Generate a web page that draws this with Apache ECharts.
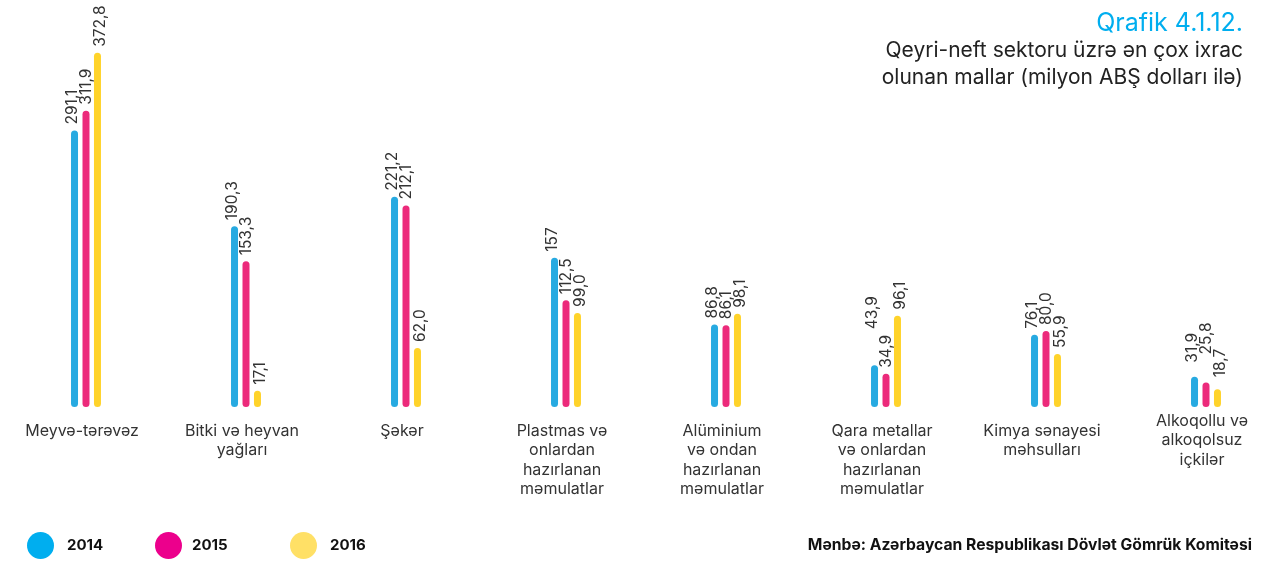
<!DOCTYPE html>
<html>
<head>
<meta charset="utf-8">
<script src="https://cdn.jsdelivr.net/npm/echarts@6/dist/echarts.min.js"></script>
<style>html,body{margin:0;padding:0;background:#fff;}#c{width:1288px;height:562px;}</style>
</head>
<body>
<div id="c"></div>
<script>
const categories = [
  'Meyvə-tərəvəz',
  'Bitki və heyvan\nyağları',
  'Şəkər',
  'Plastmas və\nonlardan\nhazırlanan\nməmulatlar',
  'Alüminium\nvə ondan\nhazırlanan\nməmulatlar',
  'Qara metallar\nvə onlardan\nhazırlanan\nməmulatlar',
  'Kimya sənayesi\nməhsulları',
  'Alkoqollu və\nalkoqolsuz\niçkilər'
];
const years = ['2014', '2015', '2016'];
const values2014 = [291.1, 190.3, 221.2, 157, 86.8, 43.9, 76.1, 31.9];
const values2015 = [311.9, 153.3, 212.1, 112.5, 86.1, 34.9, 80.0, 25.8];
const values2016 = [372.8, 17.1, 62.0, 99.0, 98.1, 96.1, 55.9, 18.7];
const labels2014 = ['291,1', '190,3', '221,2', '157', '86,8', '43,9', '76,1', '31,9'];
const labels2015 = ['311,9', '153,3', '212,1', '112,5', '86,1', '34,9', '80,0', '25,8'];
const labels2016 = ['372,8', '17,1', '62,0', '99,0', '98,1', '96,1', '55,9', '18,7'];

const barColors = ['#27AAE1', '#EC2A7B', '#FFD32A'];
const legendColors = ['#00AEEF', '#EC008C', '#FFE066'];
const FONT = 'Inter';

// a few labels in the reference are lifted higher to avoid overlapping
const labelLift = [{ 5: 30, 7: 8 }, { 7: 22 }, { 7: 6 }];
const labelShift = [-2.5, 0.5, 2.5];

const chart = echarts.init(document.getElementById('c'));

function series(idx, vals, labs) {
  return {
    name: years[idx],
    type: 'bar',
    barWidth: 7,
    barGap: '64%',
    data: vals.map((v, i) => labelLift[idx][i] ? { value: v, label: { distance: 6 + labelLift[idx][i] } } : v),
    itemStyle: { color: barColors[idx], borderRadius: 3.5 },
    label: {
      show: true,
      position: 'top',
      distance: 6,
      rotate: 90,
      align: 'left',
      verticalAlign: 'middle',
      offset: [0, labelShift[idx]],
      color: '#333',
      fontFamily: FONT,
      fontSize: 15.5,
      formatter: p => labs[p.dataIndex]
    }
  };
}

const legendLefts = [27, 155, 290];
const legendPads = [[0, 0, 0, 8], [0, 0, 0, 5], [0, 0, 0, 8]];

chart.setOption({
  animation: false,
  title: [
    { text: 'Qrafik 4.1.12.', left: 1243, top: 11, textAlign: 'right', padding: 0,
      textStyle: { color: '#00AEEF', fontFamily: FONT, fontSize: 25, fontWeight: 'normal' } },
    { text: 'Qeyri-neft sektoru üzrə ən çox ixrac\nolunan mallar (milyon ABŞ dolları ilə)', left: 1243, top: 37, textAlign: 'right', padding: 0,
      textStyle: { color: '#222', fontFamily: FONT, fontSize: 21, fontWeight: 'normal', lineHeight: 27, align: 'right' } },
    { text: 'Mənbə: Azərbaycan Respublikası Dövlət Gömrük Komitəsi', left: 1252, top: 537, textAlign: 'right', padding: 0,
      textStyle: { color: '#111', fontFamily: FONT, fontSize: 15.7, fontWeight: 'bold' } }
  ],
  legend: years.map((y, i) => ({
    data: [{ name: y, itemStyle: { color: legendColors[i] } }],
    left: legendLefts[i],
    top: 532,
    padding: 0,
    icon: 'circle',
    itemWidth: 27,
    itemHeight: 27,
    selectedMode: false,
    textStyle: { color: '#111', fontFamily: FONT, fontSize: 15, fontWeight: 'bold', padding: legendPads[i] }
  })),
  grid: { left: 6, right: 2, top: 27, bottom: 155 },
  xAxis: {
    type: 'category',
    data: categories.map((c, i) => i === categories.length - 1
      ? { value: c, textStyle: { padding: [-10, 8, 0, 0] } } : c),
    axisLine: { show: false },
    axisTick: { show: false },
    axisLabel: {
      interval: 0,
      margin: 14,
      color: '#333',
      fontFamily: FONT,
      fontSize: 16,
      lineHeight: 19.5,
      padding: [0, 8, 0, 0]
    }
  },
  yAxis: {
    type: 'value',
    min: 0,
    max: 400,
    show: false,
    splitLine: { show: false }
  },
  series: [
    series(0, values2014, labels2014),
    series(1, values2015, labels2015),
    series(2, values2016, labels2016)
  ]
});
</script>
</body>
</html>
